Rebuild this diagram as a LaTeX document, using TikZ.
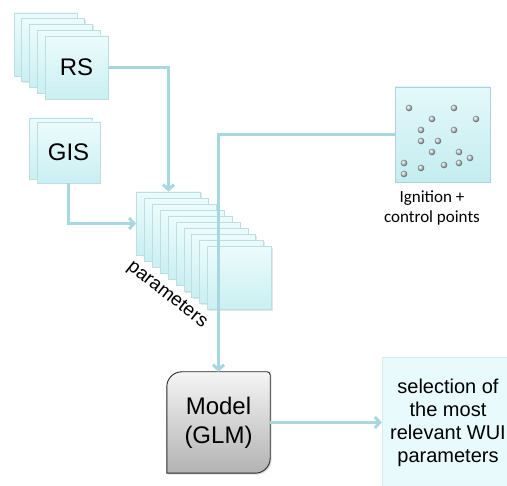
\documentclass[tikz,border=0pt]{standalone}
\usepackage{fontspec}
\setmainfont{Liberation Sans}
\newfontfamily\calibri{Carlito}
\usetikzlibrary{arrows.meta,shadows,calc}
\definecolor{linkcol}{RGB}{168,216,221}
\definecolor{sheetline}{RGB}{188,223,227}
\definecolor{sheettop}{RGB}{236,251,252}
\definecolor{sheetbot}{RGB}{202,239,242}
\definecolor{dotcol}{RGB}{200,212,216}
\tikzstyle{sheet}=[draw=sheetline, line width=0.8pt, top color=sheettop, bottom color=sheetbot,
  minimum width=63pt, minimum height=63pt, inner sep=0pt,
  drop shadow={opacity=0.2, shadow xshift=1pt, shadow yshift=-1pt},
  font=\fontsize{24}{29}\selectfont]
\tikzstyle{link}=[draw=linkcol, line width=3pt, -{Straight Barb[length=5pt,width=11pt]}]
\tikzstyle{modelbox}=[draw=black!85, line width=0.9pt, top color=black!4, bottom color=black!30,
  drop shadow={opacity=0.25, shadow xshift=1.5pt, shadow yshift=-1.5pt}]
\tikzstyle{lab}=[align=center, inner sep=0pt]

\begin{document}
\begin{tikzpicture}[x=1pt,y=1pt]
  \useasboundingbox (0,0) rectangle (507,486);
  % RS stack
  \foreach \i in {0,...,3}
    \node[sheet] (rs-\i) at ({76.5-(4-\i)*7.75},{418.5+(4-\i)*5.75}) {};
  \node[sheet] (rs) at (76.5,418.5) {RS};
  % GIS stack
  \node[sheet, minimum height=61pt] (gis-0) at (60.5,337.5) {};
  \node[sheet, minimum height=61pt] (gis) at (68.5,333.5) {GIS};
  % parameters stack
  \foreach \i in {0,...,9}
    \node[sheet, minimum width=64pt] (par-\i) at ({168.5+\i*7.9},{262.5-\i*6.1}) {};
  \node[lab, rotate=-38, font=\fontsize{19}{23}\selectfont] (par-lab) at (167,191) {parameters};
  % ignition + control points
  \node[sheet, minimum width=95pt, minimum height=95pt, draw={rgb,255:red,172;green,212;blue,216},
    top color={rgb,255:red,228;green,248;blue,250}, bottom color={rgb,255:red,196;green,237;blue,240}]
    (ign) at (442.5,351.5) {};
  \foreach \p in {(409,378),(454,378),(432,367),(476,367),(421,356),(454,356),(421,345),(438,345),
      (432,334),(459,334),(470,328),(404,323),(459,323),(444,321),(421,318),(404,312)}
    \shade[ball color=dotcol] \p circle (3.3pt);
  \node[lab, font=\calibri\fontsize{17}{20}\selectfont] (ign-lab) at (432,278) {Ignition +\\control points};
  % model
  \node[minimum width=103pt, minimum height=101pt, inner sep=0pt] (model) at (218.5,63.5) {};
  \path[modelbox] let \p1=(model.south west), \p2=(model.north east) in
    (\x1,\y1) -- ({\x1},{\y2-15pt}) arc[start angle=180, end angle=90, radius=15pt]
    -- ({\x2-3pt},{\y2}) arc[start angle=90, end angle=0, radius=3pt]
    -- ({\x2},{\y1+15pt}) arc[start angle=0, end angle=-90, radius=15pt] -- cycle;
  \node[lab, font=\fontsize{24}{29}\selectfont] (model-txt) at (model) {Model\\(GLM)};
  % selection
  \node[lab, draw={rgb,255:red,214;green,236;blue,239}, fill={rgb,255:red,233;green,250;blue,252},
    minimum width=132pt, minimum height=131pt, font=\fontsize{20}{23}\selectfont]
    (sel) at (448,63.5) {selection of\\the most\\relevant WUI\\parameters};
  % connectors
  \draw[link] (rs.east) -| (par-0.north);
  \draw[link] (gis.south) |- (par-0.west);
  \draw[link] (ign.west) -| (model.north);
  \draw[link] (model.east) -- (sel.west);
\end{tikzpicture}
\end{document}
